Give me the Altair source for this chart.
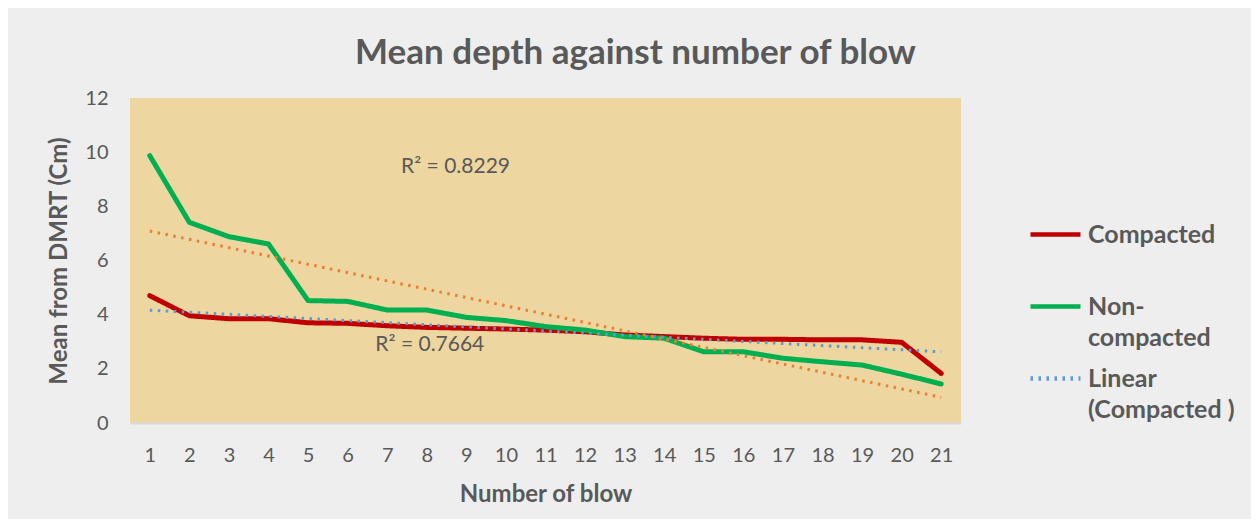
import altair as alt
import pandas as pd

# ---- data ----
blows = list(range(1, 22))
compacted = [4.70, 3.96, 3.85, 3.85, 3.70, 3.68, 3.59, 3.53, 3.50, 3.47, 3.43,
             3.37, 3.25, 3.19, 3.13, 3.09, 3.09, 3.07, 3.07, 2.98, 1.83]
noncompacted = [9.87, 7.41, 6.88, 6.61, 4.52, 4.49, 4.17, 4.17, 3.90, 3.78, 3.56,
                3.43, 3.19, 3.13, 2.63, 2.63, 2.39, 2.26, 2.14, 1.80, 1.44]
series_names = ["Compacted", "Non-compacted", "Linear (Compacted )"]
series_colors = ["#C00000", "#00B050", "#5B9BD5"]
trend_color = "#ED7D31"
y_ticks = [0, 2, 4, 6, 8, 10, 12]
r2_labels = ["R\u00b2 = 0.8229", "R\u00b2 = 0.7664"]
r2_x = [7.35, 6.7]
r2_y = [9.45, 2.88]

df = pd.DataFrame({
    "blow": blows * 2,
    "value": compacted + noncompacted,
    "series": ["Compacted"] * len(blows) + ["Non-compacted"] * len(blows),
})
ann = pd.DataFrame({"x": r2_x, "y": r2_y, "label": r2_labels})

FONT = "Lato"
GREY = "#595959"

x_enc = alt.X("blow:Q",
              scale=alt.Scale(domain=[0.5, 21.5], nice=False, zero=False),
              axis=alt.Axis(values=blows, title="Number of blow", ticks=False,
                            labelPadding=22, titlePadding=17, grid=False,
                            domainColor="#D9D9D9", domainWidth=2))
y_enc = alt.Y("value:Q",
              scale=alt.Scale(domain=[0, 12], nice=False),
              axis=alt.Axis(values=y_ticks, title="Mean from DMRT (Cm)", ticks=False,
                            labelPadding=22, titlePadding=13, grid=False, domain=False))

legend = alt.Legend(
    title=None, orient="none", legendX=898, legendY=109,
    symbolType="stroke", symbolSize=2500, symbolStrokeWidth=4.5,
    labelFont=FONT, labelFontSize=25, labelFontWeight="bold", labelColor=GREY,
    labelLimit=400, labelOffset=5, rowPadding=0,
    labelExpr="datum.label == 'Non-compacted' ? ['Non-', 'compacted'] : "
              "(datum.label == 'Linear (Compacted )' ? ['Linear', '(Compacted )'] : "
              "[datum.label, ''])",
)
color_enc = alt.Color("series:N", scale=alt.Scale(domain=series_names, range=series_colors),
                      legend=legend)
dash_enc = alt.StrokeDash("series:N",
                          scale=alt.Scale(domain=series_names,
                                          range=[[1, 0], [1, 0], [2.5, 5.5]]),
                          legend=legend)

lines = alt.Chart(df).mark_line(strokeWidth=5, strokeCap="round", strokeJoin="round").encode(
    x=x_enc, y=y_enc, color=color_enc, strokeDash=dash_enc
)

trend_c = alt.Chart(df).transform_filter(
    alt.datum.series == "Compacted"
).transform_regression("blow", "value").transform_calculate(
    series="'Linear (Compacted )'"
).mark_line(strokeWidth=3).encode(x=x_enc, y=y_enc, color=color_enc, strokeDash=dash_enc)

trend_n = alt.Chart(df).transform_filter(
    alt.datum.series == "Non-compacted"
).transform_regression("blow", "value").mark_line(
    strokeWidth=3, color=trend_color, strokeDash=[2.5, 5.5]
).encode(x=x_enc, y=y_enc)

labels = alt.Chart(ann).mark_text(align="left", baseline="middle", fontSize=21,
                                  font=FONT, color=GREY).encode(
    x=alt.X("x:Q", scale=alt.Scale(domain=[0.5, 21.5], nice=False, zero=False)),
    y=alt.Y("y:Q", scale=alt.Scale(domain=[0, 12], nice=False)),
    text="label:N",
)

chart = alt.layer(lines, trend_c, trend_n, labels).properties(
    width=831, height=325,
    autosize=alt.AutoSizeParams(type="none"),
    padding={"left": 122, "top": 90, "right": 290, "bottom": 96},
    background="#EEEEEE",
    title=alt.TitleParams("Mean depth against number of blow", font=FONT, fontSize=35,
                          fontWeight="bold", color=GREY, anchor="middle", dx=90, offset=17),
).configure(
    style={"guide-label": {"lineHeight": 31}}
).configure_view(
    fill="#EDD6A0", stroke=None
).configure_axis(
    labelFont=FONT, labelFontSize=20, labelColor=GREY,
    titleFont=FONT, titleFontSize=24, titleFontWeight="bold", titleColor=GREY,
)

chart.save("out.html", embed_options={"renderer": "svg", "actions": False})
